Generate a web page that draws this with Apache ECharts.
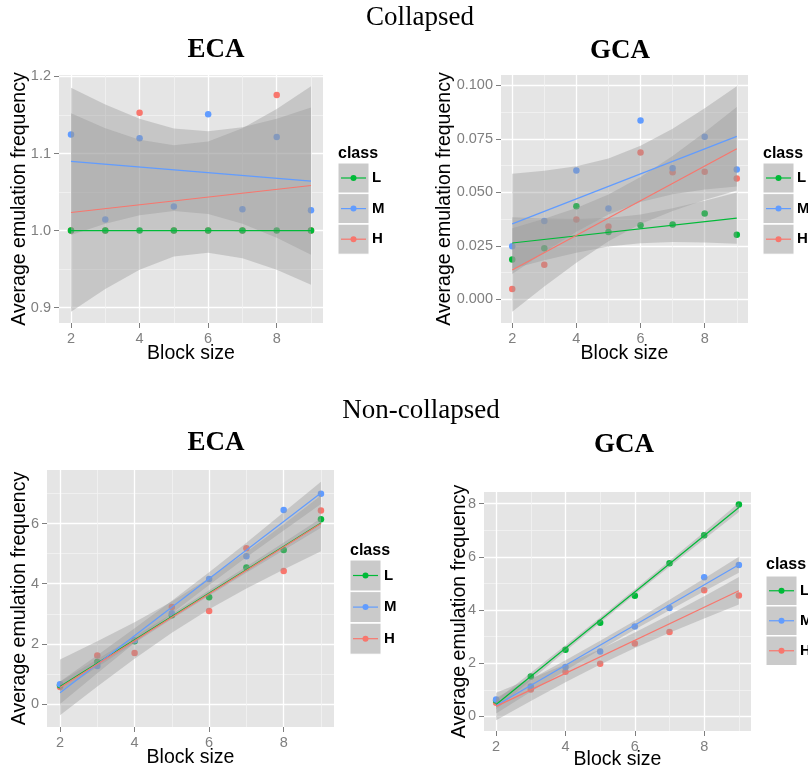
<!DOCTYPE html>
<html>
<head>
<meta charset="utf-8">
<script src="https://cdn.jsdelivr.net/npm/echarts@6/dist/echarts.min.js"></script>
<style>
html,body{margin:0;padding:0;background:#ffffff;}
#chart{width:808px;height:774px;}
</style>
</head>
<body>
<div id="chart"></div>
<script>
// ---------------- data ----------------
const blockSizes = [2, 3, 4, 5, 6, 7, 8, 9];
const fitX = [2, 9];
const classNames = ['L', 'M', 'H'];
const classColors = { L: '#00BA38', M: '#619CFF', H: '#F8766D' };
const xTicks = [2, 4, 6, 8];
const xMinorTicks = [3, 5, 7, 9];

// Collapsed - ECA
const colECA_L = [1, 1, 1, 1, 1, 1, 1, 1];
const colECA_M = [1.1245, 1.0144, 1.1197, 1.0313, 1.1508, 1.0278, 1.1214, 1.0265];
const colECA_H = [1, 1, 1.153, 1, 1, 1, 1.176, 1];
const colECA_fitL = [1.0, 1.0];
const colECA_fitM = [1.0898, 1.0642];
const colECA_fitH = [1.0235, 1.0585];
const colECA_bandM_lo = [0.9944, 1.0088, 1.0200, 1.0253, 1.0217, 1.0090, 0.9906, 0.9688];
const colECA_bandM_hi = [1.1852, 1.1634, 1.1450, 1.1323, 1.1287, 1.1340, 1.1452, 1.1596];
const colECA_bandH_lo = [0.8948, 0.9242, 0.9493, 0.9664, 0.9714, 0.9643, 0.9492, 0.9298];
const colECA_bandH_hi = [1.1522, 1.1328, 1.1177, 1.1106, 1.1156, 1.1327, 1.1578, 1.1872];
const colECA_yTicks = [0.9, 1.0, 1.1, 1.2];
const colECA_yMinor = [0.95, 1.05, 1.15];

// Collapsed - GCA
const colGCA_L = [0.0186, 0.0238, 0.0435, 0.0314, 0.0346, 0.0349, 0.0401, 0.0301];
const colGCA_M = [0.0248, 0.0366, 0.0602, 0.0424, 0.0835, 0.0612, 0.0759, 0.0606];
const colGCA_H = [0.0048, 0.0161, 0.0373, 0.0340, 0.0686, 0.0593, 0.0596, 0.0564];
const colGCA_fitL = [0.0263, 0.0379];
const colGCA_fitM = [0.0352, 0.0761];
const colGCA_fitH = [0.0137, 0.0703];
const colGCA_bandL_lo = [0.0143, 0.0182, 0.0217, 0.0246, 0.0262, 0.0267, 0.0265, 0.0259];
const colGCA_bandL_hi = [0.0383, 0.0377, 0.0375, 0.0380, 0.0396, 0.0425, 0.0460, 0.0499];
const colGCA_bandM_lo = [0.0118, 0.0220, 0.0316, 0.0396, 0.0455, 0.0491, 0.0513, 0.0527];
const colGCA_bandM_hi = [0.0586, 0.0600, 0.0622, 0.0658, 0.0717, 0.0797, 0.0893, 0.0995];
const colGCA_bandH_lo = [-0.0058, 0.0060, 0.0171, 0.0271, 0.0352, 0.0413, 0.0464, 0.0508];
const colGCA_bandH_hi = [0.0332, 0.0376, 0.0427, 0.0490, 0.0571, 0.0669, 0.0780, 0.0898];
const colGCA_yTicks = [0, 0.025, 0.05, 0.075, 0.1];
const colGCA_yMinor = [0.0125, 0.0375, 0.0625, 0.0875];

// Non-collapsed - ECA
const ncECA_L = [0.62, 1.392, 2.088, 2.95, 3.547, 4.541, 5.127, 6.144];
const ncECA_M = [0.652, 1.26, 2.12, 3.017, 4.155, 4.917, 6.453, 6.994];
const ncECA_H = [0.564, 1.613, 1.69, 3.227, 3.094, 5.182, 4.42, 6.442];
const ncECA_fitL = [0.5803, 6.0221];
const ncECA_fitM = [0.3675, 7.0245];
const ncECA_fitH = [0.549, 6.009];
const ncECA_bandL_lo = [0.4211, 1.2286, 2.0309, 2.8233, 3.6007, 4.3631, 5.1156, 5.8629];
const ncECA_bandL_hi = [0.7395, 1.4868, 2.2393, 3.0017, 3.7791, 4.5715, 5.3738, 6.1813];
const ncECA_bandM_lo = [-0.0061, 1.0157, 2.0250, 3.0111, 3.9621, 4.8780, 5.7707, 6.6509];
const ncECA_bandM_hi = [0.7411, 1.6213, 2.5140, 3.4299, 4.3809, 5.3670, 6.3763, 7.3981];
const ncECA_bandH_lo = [-0.3813, 0.5749, 1.5001, 2.3675, 3.1475, 3.8401, 4.4749, 5.0787];
const ncECA_bandH_hi = [1.4793, 2.0831, 2.7179, 3.4105, 4.1905, 5.0579, 5.9831, 6.9393];
const ncECA_yTicks = [0, 2, 4, 6];
const ncECA_yMinor = [1, 3, 5, 7];

// Non-collapsed - GCA
const ncGCA_L = [0.6, 1.495, 2.505, 3.526, 4.536, 5.757, 6.816, 7.975];
const ncGCA_M = [0.636, 1.12, 1.857, 2.442, 3.377, 4.075, 5.234, 5.695];
const ncGCA_H = [0.51, 1.009, 1.682, 1.981, 2.741, 3.178, 4.748, 4.548];
const ncGCA_fitL = [0.4428, 7.8593];
const ncGCA_fitM = [0.4057, 5.7033];
const ncGCA_fitH = [0.375, 4.7255];
const ncGCA_bandL_lo = [0.2698, 1.3621, 2.4486, 3.5243, 4.5838, 5.6271, 6.6596, 7.6863];
const ncGCA_bandL_hi = [0.6158, 1.6425, 2.6750, 3.7183, 4.7778, 5.8535, 6.9400, 8.0323];
const ncGCA_bandM_lo = [0.1084, 0.9216, 1.7248, 2.5095, 3.2663, 3.9952, 4.7056, 5.4060];
const ncGCA_bandM_hi = [0.7030, 1.4034, 2.1138, 2.8427, 3.5995, 4.3842, 5.1874, 6.0006];
const ncGCA_bandH_lo = [-0.1421, 0.5774, 1.2796, 1.9496, 2.5711, 3.1441, 3.6849, 4.2084];
const ncGCA_bandH_hi = [0.8921, 1.4156, 1.9564, 2.5294, 3.1509, 3.8209, 4.5231, 5.2426];
const ncGCA_yTicks = [0, 2, 4, 6, 8];
const ncGCA_yMinor = [1, 3, 5, 7];

// ---------------- layout / styling ----------------
const SANS = "'Liberation Sans', Arial, Helvetica, sans-serif";
const SERIF = "'Liberation Serif', 'Times New Roman', serif";
const X_MIN = 1.65, X_MAX = 9.35;

const panels = [
  { grid: { left: 59, top: 75, width: 264, height: 248 }, yMin: 0.8802, yMax: 1.2018,
    yTicks: colECA_yTicks, yMinor: colECA_yMinor, yDec: 1, yNameGap: 29, xNameGap: 21,
    pts: { L: colECA_L, M: colECA_M, H: colECA_H },
    fit: { L: colECA_fitL, M: colECA_fitM, H: colECA_fitH },
    band: { M: [colECA_bandM_lo, colECA_bandM_hi], H: [colECA_bandH_lo, colECA_bandH_hi] },
    legend: { x: 338, titleBase: 159, keyTop: 163, step: 30.6, h: 30 } },
  { grid: { left: 501, top: 75, width: 247, height: 248 }, yMin: -0.0111, yMax: 0.1048,
    yTicks: colGCA_yTicks, yMinor: colGCA_yMinor, yDec: 3, yNameGap: 46, xNameGap: 21,
    pts: { L: colGCA_L, M: colGCA_M, H: colGCA_H },
    fit: { L: colGCA_fitL, M: colGCA_fitM, H: colGCA_fitH },
    band: { L: [colGCA_bandL_lo, colGCA_bandL_hi], M: [colGCA_bandM_lo, colGCA_bandM_hi], H: [colGCA_bandH_lo, colGCA_bandH_hi] },
    legend: { x: 763, titleBase: 158.5, keyTop: 163, step: 30.6, h: 30 } },
  { grid: { left: 47, top: 470, width: 287, height: 257 }, yMin: -0.770, yMax: 7.787,
    yTicks: ncECA_yTicks, yMinor: ncECA_yMinor, yDec: 0, yNameGap: 17, xNameGap: 21,
    pts: { L: ncECA_L, M: ncECA_M, H: ncECA_H },
    fit: { L: ncECA_fitL, M: ncECA_fitM, H: ncECA_fitH },
    band: { L: [ncECA_bandL_lo, ncECA_bandL_hi], M: [ncECA_bandM_lo, ncECA_bandM_hi], H: [ncECA_bandH_lo, ncECA_bandH_hi] },
    legend: { x: 350, titleBase: 556, keyTop: 560, step: 31.6, h: 31 } },
  { grid: { left: 484, top: 492, width: 267, height: 239 }, yMin: -0.5508, yMax: 8.441,
    yTicks: ncGCA_yTicks, yMinor: ncGCA_yMinor, yDec: 0, yNameGap: 14, xNameGap: 19,
    pts: { L: ncGCA_L, M: ncGCA_M, H: ncGCA_H },
    fit: { L: ncGCA_fitL, M: ncGCA_fitM, H: ncGCA_fitH },
    band: { L: [ncGCA_bandL_lo, ncGCA_bandL_hi], M: [ncGCA_bandM_lo, ncGCA_bandM_hi], H: [ncGCA_bandH_lo, ncGCA_bandH_hi] },
    legend: { x: 766, titleBase: 570, keyTop: 576, step: 30, h: 29.5 } }
];

const titles = [
  { text: 'Collapsed', x: 420, y: 17.5, bold: false },
  { text: 'ECA', x: 216, y: 50, bold: true },
  { text: 'GCA', x: 620, y: 51.5, bold: true },
  { text: 'Non-collapsed', x: 421, y: 411, bold: false },
  { text: 'ECA', x: 216, y: 443.5, bold: true },
  { text: 'GCA', x: 624, y: 445, bold: true }
];

const option = {
  animation: false,
  backgroundColor: '#ffffff',
  grid: [], xAxis: [], yAxis: [], series: [], graphic: []
};

panels.forEach(function (p, i) {
  option.grid.push({
    left: p.grid.left, top: p.grid.top, width: p.grid.width, height: p.grid.height,
    show: true, backgroundColor: '#E5E5E5', borderWidth: 0,
    containLabel: false, outerBoundsMode: 'none'
  });
  // minor grid axes
  option.xAxis.push({
    type: 'value', gridIndex: i, min: X_MIN, max: X_MAX, position: 'bottom',
    axisLine: { show: false, onZero: false },
    axisTick: { show: false, customValues: xMinorTicks },
    axisLabel: { show: false, customValues: xMinorTicks },
    splitLine: { show: true, lineStyle: { color: '#F2F2F2', width: 0.8 } }
  });
  option.yAxis.push({
    type: 'value', gridIndex: i, min: p.yMin, max: p.yMax, position: 'left',
    axisLine: { show: false, onZero: false },
    axisTick: { show: false, customValues: p.yMinor },
    axisLabel: { show: false, customValues: p.yMinor },
    splitLine: { show: true, lineStyle: { color: '#F2F2F2', width: 0.8 } }
  });
  // major axes
  option.xAxis.push({
    type: 'value', gridIndex: i, min: X_MIN, max: X_MAX, position: 'bottom',
    axisLine: { show: false, onZero: false },
    axisTick: { show: true, length: 5, customValues: xTicks, lineStyle: { color: '#7F7F7F', width: 1 } },
    axisLabel: { show: true, customValues: xTicks, color: '#7F7F7F', fontSize: 14.5, fontFamily: SANS, margin: 8,
      formatter: function (v) { return String(Math.round(v)); } },
    splitLine: { show: true, lineStyle: { color: '#FFFFFF', width: 1.3 } },
    name: 'Block size', nameLocation: 'middle', nameGap: p.xNameGap, nameMoveOverlap: false,
    nameTextStyle: { color: '#000000', fontSize: 19.5, fontFamily: SANS }
  });
  option.yAxis.push({
    type: 'value', gridIndex: i, min: p.yMin, max: p.yMax, position: 'left',
    axisLine: { show: false, onZero: false },
    axisTick: { show: true, length: 5, customValues: p.yTicks, lineStyle: { color: '#7F7F7F', width: 1 } },
    axisLabel: { show: true, customValues: p.yTicks, color: '#7F7F7F', fontSize: 14.5, fontFamily: SANS, margin: 8,
      formatter: function (v) { return Number(v).toFixed(p.yDec); } },
    splitLine: { show: true, lineStyle: { color: '#FFFFFF', width: 1.3 } },
    name: 'Average emulation frequency', nameLocation: 'middle', nameGap: p.yNameGap, nameMoveOverlap: false,
    nameRotate: 90,
    nameTextStyle: { color: '#000000', fontSize: 19.5, fontFamily: SANS }
  });

  const xi = 2 * i + 1, yi = 2 * i + 1;
  // points (drawn first, ribbons go over them)
  ['H', 'L', 'M'].forEach(function (c) {
    option.series.push({
      type: 'scatter', name: c, xAxisIndex: xi, yAxisIndex: yi, silent: true, z: 2,
      symbol: 'circle', symbolSize: 6.5,
      itemStyle: { color: classColors[c], opacity: 1 },
      data: blockSizes.map(function (x, k) { return [x, p.pts[c][k]]; })
    });
  });
  // confidence ribbons
  classNames.forEach(function (c) {
    const b = p.band[c];
    if (!b) return;
    const lo = b[0], hi = b[1];
    option.series.push({
      type: 'custom', name: c + ' band', coordinateSystem: 'cartesian2d',
      xAxisIndex: xi, yAxisIndex: yi, silent: true, z: 3,
      data: [[blockSizes[0], lo[0]]],
      renderItem: function (params, api) {
        const pts = [];
        for (let k = 0; k < blockSizes.length; k++) pts.push(api.coord([blockSizes[k], lo[k]]));
        for (let k = blockSizes.length - 1; k >= 0; k--) pts.push(api.coord([blockSizes[k], hi[k]]));
        return { type: 'polygon', shape: { points: pts }, style: { fill: 'rgba(153,153,153,0.4)' } };
      }
    });
  });
  // fitted lines
  classNames.forEach(function (c) {
    option.series.push({
      type: 'line', name: c + ' fit', xAxisIndex: xi, yAxisIndex: yi, silent: true, z: 4,
      symbol: 'none', showSymbol: false,
      lineStyle: { color: classColors[c], width: 1.2 },
      data: fitX.map(function (x, k) { return [x, p.fit[c][k]]; })
    });
  });

  // legend drawn as graphics
  const lg = p.legend;
  const kw = 31;
  option.graphic.push({
    type: 'text', x: lg.x, y: lg.titleBase - 5.3,
    style: { text: 'class', fill: '#000', fontSize: 16, fontWeight: 'bold', fontFamily: SANS, align: 'left', verticalAlign: 'middle' }
  });
  classNames.forEach(function (c, k) {
    const top = lg.keyTop + k * lg.step;
    const cy = top + lg.h / 2;
    option.graphic.push({ type: 'rect', shape: { x: lg.x, y: top, width: kw, height: lg.h },
      style: { fill: '#CACACA', stroke: '#FFFFFF', lineWidth: 1 } });
    option.graphic.push({ type: 'line', shape: { x1: lg.x + 3, y1: cy, x2: lg.x + kw - 3, y2: cy },
      style: { stroke: classColors[c], lineWidth: 1.2 } });
    option.graphic.push({ type: 'circle', shape: { cx: lg.x + kw / 2, cy: cy, r: 3 },
      style: { fill: classColors[c] } });
    option.graphic.push({ type: 'text', x: lg.x + kw + 3, y: cy,
      style: { text: c, fill: '#000', fontSize: 15, fontWeight: 'bold', fontFamily: SANS, align: 'left', verticalAlign: 'middle' } });
  });
});

titles.forEach(function (t) {
  option.graphic.push({
    type: 'text', x: t.x, y: t.y,
    style: { text: t.text, fill: '#000', fontSize: 27, fontWeight: t.bold ? 'bold' : 'normal', fontFamily: SERIF,
      align: 'center', verticalAlign: 'middle' }
  });
});

const chart = echarts.init(document.getElementById('chart'), null, { renderer: 'canvas' });
chart.setOption(option);
</script>
</body>
</html>
